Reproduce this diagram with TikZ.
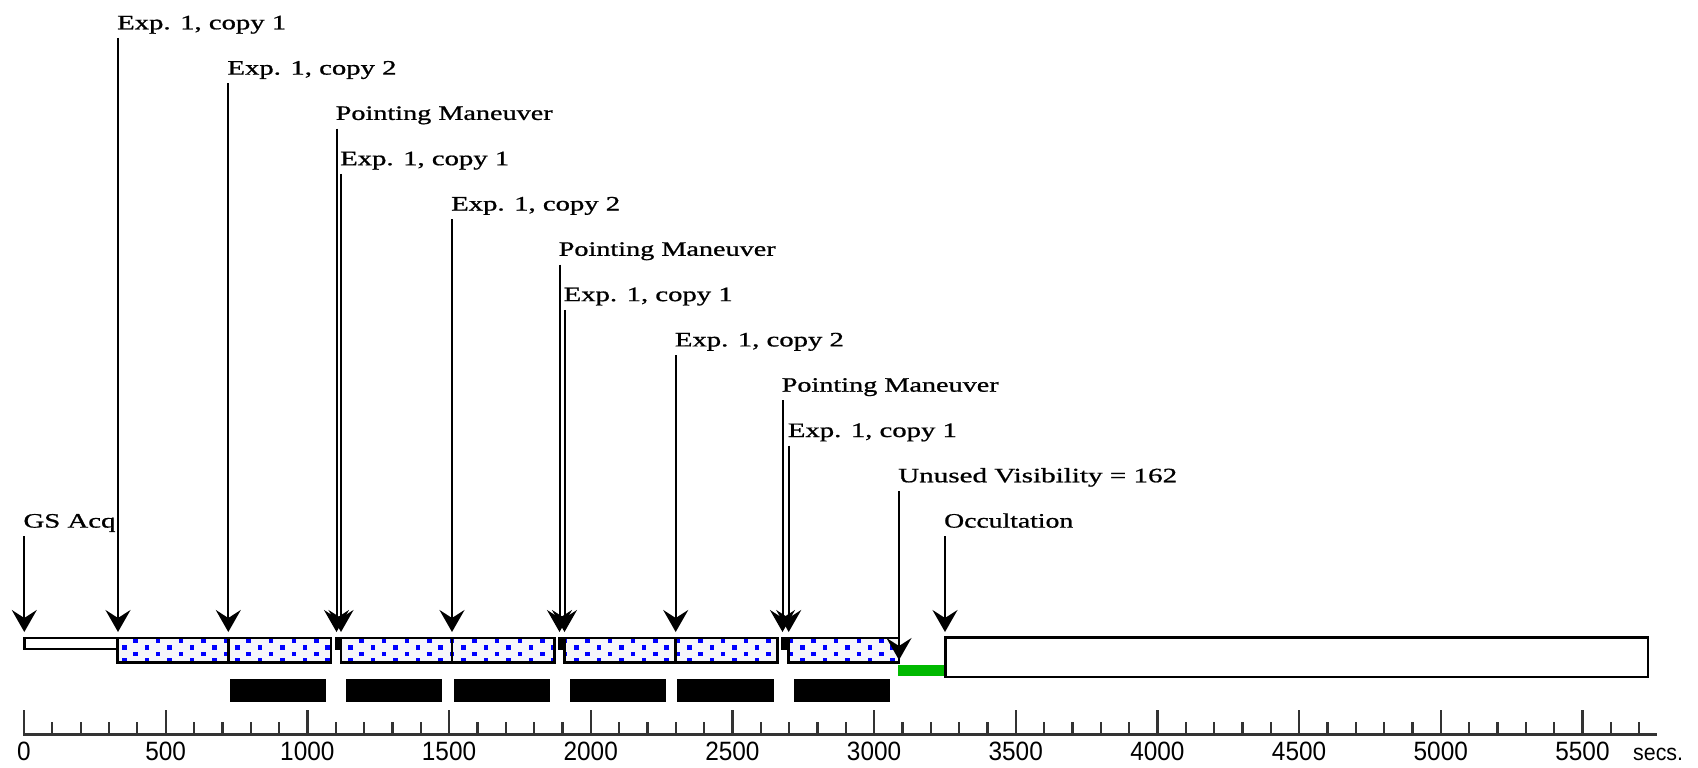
\documentclass[tikz,border=0pt]{standalone}
\usepackage{fontspec}
\setmainfont{Liberation Serif}
\newfontfamily\lblfont[FakeBold=0.8]{Liberation Serif}
\newfontfamily\numfont{Liberation Sans}
\usetikzlibrary{arrows.meta}
\definecolor{dotblue}{RGB}{0,0,255}
\definecolor{vizgreen}{RGB}{0,185,0}
\definecolor{axisgray}{RGB}{51,51,51}
\definecolor{dotbg}{RGB}{246,246,250}
\newcommand\mylbl[2]{\resizebox{#1}{\height}{#2}}
\newcommand\mydotbox[2]{%
  \begin{scope}
    \clip (#1,638) rectangle (#2,662.7);
    \fill[dotbg] (#1,638) rectangle (#2,662.7);
    \pgfmathtruncatemacro\mdA{#1/11.3-1}
    \pgfmathtruncatemacro\mdB{#2/11.3+1}
    \foreach \i in {\mdA,...,\mdB}{
      \foreach \j in {0,...,3}{
        \pgfmathtruncatemacro\mdpar{mod(\i+\j,2)}
        \ifnum\mdpar=0
          \fill[dotblue] ({11.3*\i-2.25},{640.8+6.5*\j-2.25}) rectangle ++(4.5,4.5);
        \fi
      }}
  \end{scope}
  \draw[boxline] (#1,638) rectangle (#2,662.7);
}
\begin{document}
\begin{tikzpicture}[x=1pt,y=-1pt,
  lbl/.style={anchor=base west, inner sep=0pt, font=\lblfont\fontsize{20.5}{22}\selectfont},
  arr/.style={line width=2pt, -{Stealth[length=22pt,width=25pt,inset=8pt]}},
  boxline/.style={draw=black, line width=2.7pt},
  tickmark/.style={draw=axisgray, line width=2.3pt},
  ticklbl/.style={inner sep=0pt, font=\numfont\fontsize{26.5}{28}\selectfont},
  barfill/.style={fill=black}]
\useasboundingbox (0,0) rectangle (1698,768);

% ---------- timeline boxes ----------
\draw[boxline, fill=white] (24.7,638) rectangle (117.5,649);
\mydotbox{117.5}{228.3}
\mydotbox{228.3}{331}
\mydotbox{341}{452}
\mydotbox{452}{554.3}
\mydotbox{564.5}{675.7}
\mydotbox{675.7}{777.7}
\mydotbox{788.7}{899}
% pointing maneuver blocks
\fill[black] (334.8,637) rectangle (341,650.3);
\fill[black] (558,637) rectangle (564.5,650.3);
\fill[black] (781.3,637) rectangle (788.7,650.3);
% unused visibility (green) and occultation box
\fill[vizgreen] (898,665) rectangle (945,676);
\draw[boxline] (945.7,637.5) rectangle (1648,677);

% ---------- black bars ----------
\fill[barfill] (230,679) rectangle (325.7,701.7);
\fill[barfill] (346,679) rectangle (441.7,701.7);
\fill[barfill] (454,679) rectangle (550,701.7);
\fill[barfill] (570,679) rectangle (665.7,701.7);
\fill[barfill] (677,679) rectangle (774,701.7);
\fill[barfill] (794,679) rectangle (890,701.7);

% ---------- axis ----------
\draw[axisgray, line width=3pt] (23,734) -- (1657,734);
\foreach \t in {0,100,...,5700}
  \draw[tickmark] ({24+0.28336*\t},722.3) -- ({24+0.28336*\t},734);
\foreach \t in {0,500,...,5500}{
  \draw[tickmark] ({24+0.28336*\t},710) -- ({24+0.28336*\t},734);
  \node[ticklbl] (tl\t) at ({24+0.28336*\t},751) {\scalebox{0.92}[1]{\t}};
}
\node[anchor=base west, inner sep=0pt, font=\numfont\fontsize{23}{25}\selectfont] (secs) at (1633,760) {\scalebox{0.93}[1]{secs.}};

% ---------- labels ----------
\node[lbl] (gs)  at (23.3,527.6) {\mylbl{92pt}{GS Acq}};
\node[lbl] (a1)  at (117,29.3)   {\mylbl{169pt}{Exp. 1, copy 1}};
\node[lbl] (a2)  at (227.3,74.6) {\mylbl{169pt}{Exp. 1, copy 2}};
\node[lbl] (a3)  at (335.5,119.9) {\mylbl{217pt}{Pointing Maneuver}};
\node[lbl] (a4)  at (340,165.2)  {\mylbl{169pt}{Exp. 1, copy 1}};
\node[lbl] (a5)  at (451,210.5)  {\mylbl{169pt}{Exp. 1, copy 2}};
\node[lbl] (a6)  at (558.5,255.8) {\mylbl{217pt}{Pointing Maneuver}};
\node[lbl] (a7)  at (563.5,301.1) {\mylbl{169pt}{Exp. 1, copy 1}};
\node[lbl] (a8)  at (674.7,346.4) {\mylbl{169pt}{Exp. 1, copy 2}};
\node[lbl] (a9)  at (781.5,391.7) {\mylbl{217pt}{Pointing Maneuver}};
\node[lbl] (a10) at (787.7,437)   {\mylbl{169pt}{Exp. 1, copy 1}};
\node[lbl] (a11) at (898,482.3)  {\mylbl{279pt}{Unused Visibility = 162}};
\node[lbl] (a12) at (944,527.6)  {\mylbl{129pt}{Occultation}};

% ---------- arrows ----------
\coordinate (sgs) at (24.3,536.3);  \coordinate (egs) at (24.3,632);
\coordinate (s1)  at (118,38);      \coordinate (e1)  at (118,632);
\coordinate (s2)  at (228.3,83.3);  \coordinate (e2)  at (228.3,632);
\coordinate (s3)  at (336.5,128.6); \coordinate (e3)  at (336.5,632);
\coordinate (s4)  at (341,173.9);   \coordinate (e4)  at (341,632);
\coordinate (s5)  at (452,219.2);   \coordinate (e5)  at (452,632);
\coordinate (s6)  at (559.5,264.5); \coordinate (e6)  at (559.5,632);
\coordinate (s7)  at (564.5,309.8); \coordinate (e7)  at (564.5,632);
\coordinate (s8)  at (675.7,355.1); \coordinate (e8)  at (675.7,632);
\coordinate (s9)  at (782.5,400.4); \coordinate (e9)  at (782.5,632);
\coordinate (s10) at (788.7,445.7); \coordinate (e10) at (788.7,632);
\coordinate (s11) at (899,491);     \coordinate (e11) at (899,660);
\coordinate (s12) at (945,536.3);   \coordinate (e12) at (945,632);
\foreach \k in {gs,1,2,3,4,5,6,7,8,9,10,11,12}
  \draw[arr] (s\k) -- (e\k);
\end{tikzpicture}
\end{document}
